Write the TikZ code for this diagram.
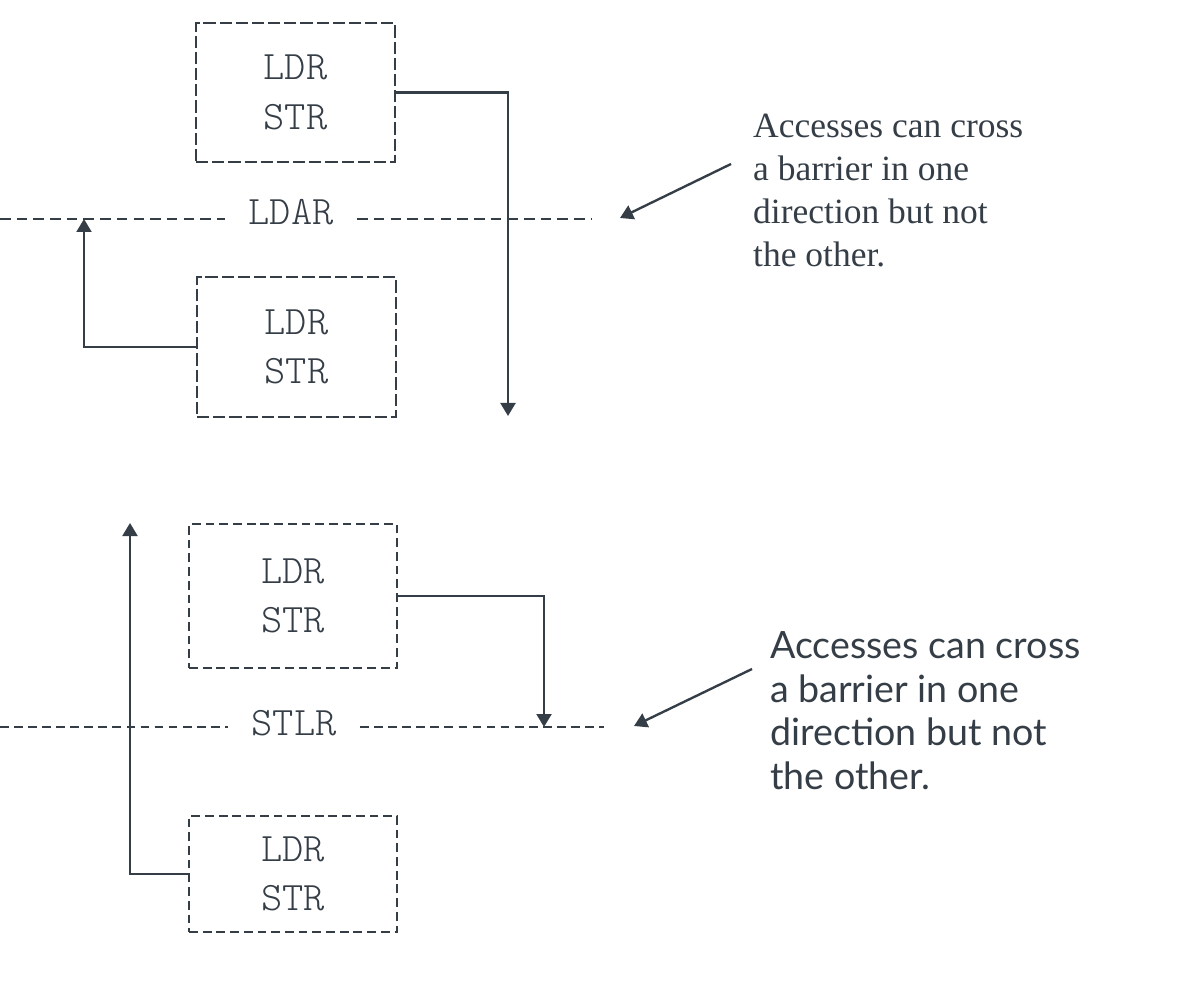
\documentclass[tikz,border=0pt]{standalone}
\usepackage{fontspec}
\setmainfont{Liberation Serif}
\newfontfamily\codefont{Latin Modern Mono Light}
\newfontfamily\latofont{Lato}
\usepackage{tikz}
\usetikzlibrary{arrows.meta}
\definecolor{slate}{HTML}{353E47}

\begin{document}
\begin{tikzpicture}[x=0.02cm, y=-0.02cm, line width=1.35pt, color=slate,
    opbox/.style={draw, dash pattern=on 7pt off 2.2pt, align=center, inner sep=0,
        font=\codefont\fontsize{23}{28.3}\selectfont},
    barrier/.style={dash pattern=on 6pt off 3.5pt},
    label/.style={inner xsep=0.45cm, font=\codefont\fontsize{23}{24}\selectfont},
    conn/.style={-{Triangle[length=7.4pt, width=8.5pt]}},
    note/.style={anchor=north west, align=left, inner sep=0}]
    \useasboundingbox (0, 0) rectangle (1195, 999);
    % LDAR: acquire
    \node [opbox, minimum width=3.98cm, minimum height=2.78cm] (0) at (295.5, 92.5) {LDR\\STR};
    \node [opbox, minimum width=3.98cm, minimum height=2.8cm] (1) at (296.5, 347) {LDR\\STR};
    \node [label] (2) at (291, 212) {LDAR};
    \coordinate (4) at (0, 219);
    \coordinate (5) at (592, 219);
    \draw [barrier] (4) to (4 -| 2.west);
    \draw [barrier] (2.east |- 4) to (5);
    \coordinate (6) at (508, 416);
    \coordinate (7) at (84, 219);
    \draw [conn] (0.east) -| (6);
    \draw [conn] (1.west) -| (7);
    % note
    \node [note, font=\fontsize{20.2}{24.4}\selectfont] (3) at (752, 113) {%
    Accesses can cross\\ a barrier in one\\ direction but not\\ the other.};
    \coordinate (8) at (731, 164);
    \coordinate (9) at (620, 218);
    \draw [conn] (8) to (9);
    % STLR: release
    \node [opbox, dash pattern=on 5pt off 2.8pt, minimum width=4.16cm, minimum height=2.88cm] (10) at (293, 596) {LDR\\STR};
    \node [opbox, dash pattern=on 5pt off 2.8pt, minimum width=4.16cm, minimum height=2.32cm] (11) at (293, 874) {LDR\\STR};
    \node [label] (12) at (294, 723) {STLR};
    \coordinate (14) at (0, 727);
    \coordinate (15) at (604, 727);
    \draw [barrier, dash pattern=on 5pt off 3pt] (14) to (14 -| 12.west);
    \draw [barrier, dash pattern=on 5pt off 3pt] (12.east |- 14) to (15);
    \coordinate (16) at (544, 727);
    \coordinate (17) at (130, 523);
    \draw [conn] (10.east) -| (16);
    \draw [conn] (11.west) -| (17);
    % note
    \node [note, font=\latofont\fontsize{21.4}{25}\selectfont] (13) at (769, 630) {%
    Accesses can cross\\ a barrier in one\\ direction but not\\ the other.};
    \coordinate (18) at (752, 669);
    \coordinate (19) at (634, 726);
    \draw [conn] (18) to (19);
\end{tikzpicture}
\end{document}
